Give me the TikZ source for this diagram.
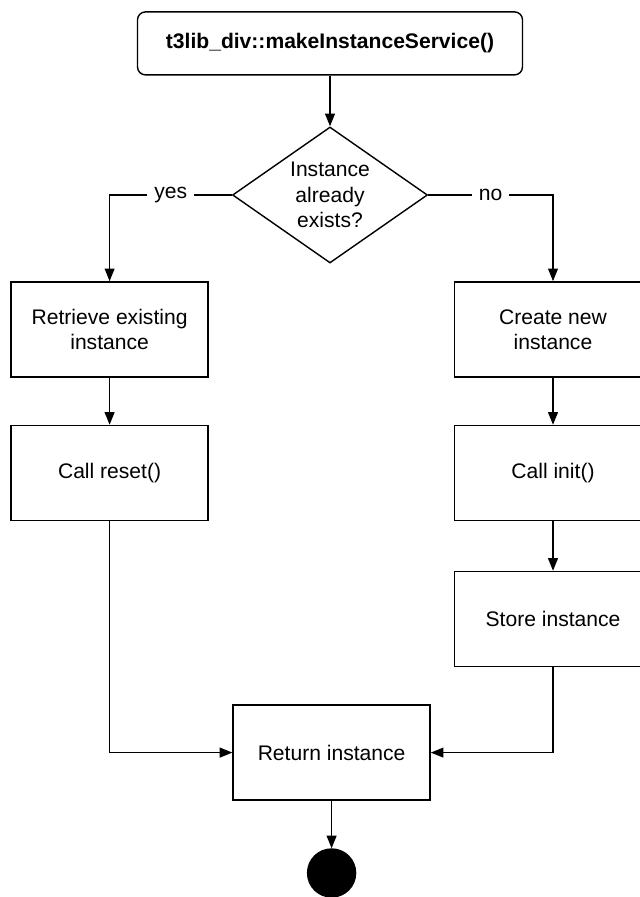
\documentclass[tikz,border=0pt]{standalone}
\usepackage{fontspec}
\setmainfont{Liberation Sans}
\usetikzlibrary{shapes.geometric,arrows.meta}

\begin{document}
\begin{tikzpicture}[>={Triangle[length=9pt,width=7pt]}, line width=1pt,
	every node/.style={font=\fontsize{15}{18}\selectfont, align=center},
	stepbox/.style={draw, rectangle, minimum width=4.925cm, minimum height=2.375cm},
	startbox/.style={draw, rectangle, rounded corners=0.2cm, minimum width=9.625cm, minimum height=1.575cm, font=\fontsize{15}{18}\selectfont\bfseries},
	question/.style={draw, diamond, aspect=1.43, inner sep=0pt, minimum width=4.875cm, minimum height=3.4cm},
	endpoint/.style={draw, circle, fill=black, minimum size=1.2cm, inner sep=0pt}]
	\clip (0,0) rectangle (16,22.425);
	\node[startbox] (start) at (8.25,21.34) {t3lib\_div::makeInstanceService()};
	\node[question] (exists) at (8.25,17.55) {Instance\\already\\exists?};
	\node[stepbox] (retrieve) at (2.74,14.19) {Retrieve existing\\instance};
	\node[stepbox] (reset) at (2.74,10.6) {Call reset()};
	\node[stepbox] (create) at (13.825,14.19) {Create new\\instance};
	\node[stepbox] (init) at (13.825,10.6) {Call init()};
	\node[stepbox] (store) at (13.825,6.95) {Store instance};
	\node[stepbox] (return) at (8.29,3.61) {Return instance};
	\node[endpoint] (stop) at (8.29,0.6) {};
	% connectors
	\draw[->] (start) -- (exists);
	\draw[->] (exists.west) -| node[pos=0.25, fill=white, inner sep=5pt]{yes} (retrieve.north);
	\draw[->] (exists.east) -| node[pos=0.25, fill=white, inner sep=5pt]{no} (create.north);
	\draw[->] (retrieve) -- (reset);
	\draw[->] (create) -- (init);
	\draw[->] (init) -- (store);
	\draw[->] (reset.south) |- (return.west);
	\draw[->] (store.south) |- (return.east);
	\draw[->] (return) -- (stop);
\end{tikzpicture}
\end{document}
